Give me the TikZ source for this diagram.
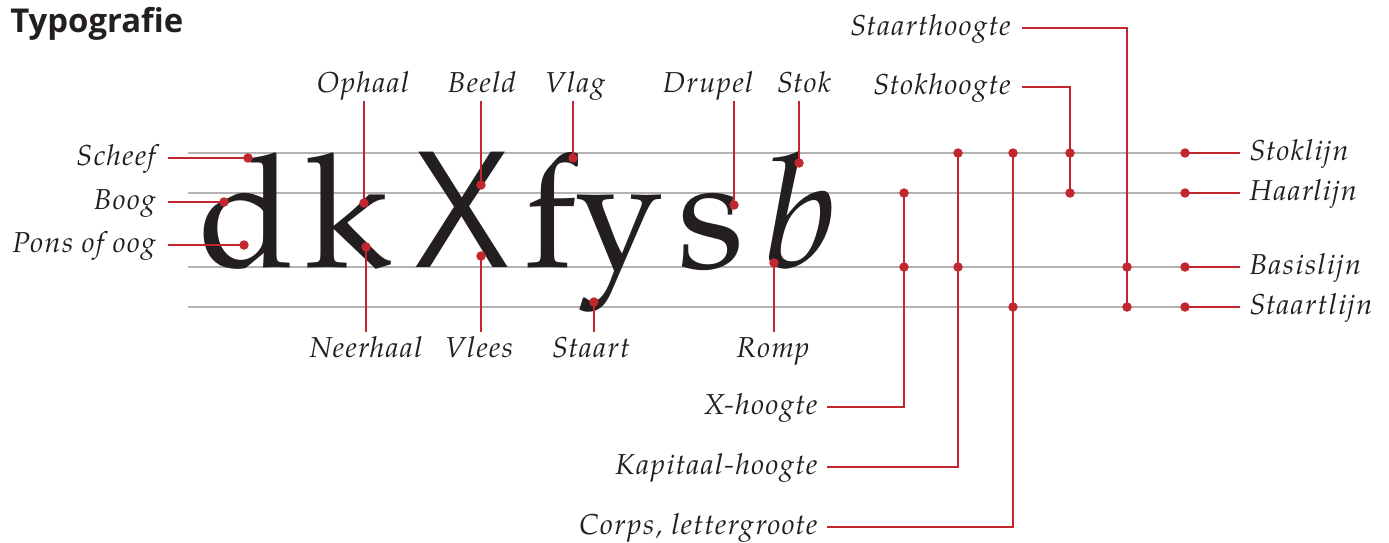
\documentclass[tikz,border=0pt]{standalone}
\usepackage{fontspec}
\setmainfont{texgyrepagella}[Extension=.otf, UprightFont=*-regular, ItalicFont=*-italic, BoldFont=*-bold, BoldItalicFont=*-bolditalic]
\newfontfamily\labelfont{texgyrepagella}[Extension=.otf, UprightFont=*-italic, LetterSpace=5]
\newfontfamily\kopfont{Open Sans}
\usetikzlibrary{positioning, calc}

\definecolor{inkt}{HTML}{231F20}
\definecolor{rood}{HTML}{C1272D}
\definecolor{lijngrijs}{HTML}{B3B3B3}

\begin{document}
\begin{tikzpicture}[x=0.02cm, y=-0.02cm,
  naam/.style={font=\labelfont\fontsize{16.4}{19}\selectfont, text=inkt, inner sep=0pt, text height=11pt, text depth=3pt},
  links/.style={naam, anchor=east, outer sep=7pt},
  rechts/.style={naam, anchor=west, outer sep=5.5pt},
  boven/.style={naam, anchor=south, outer sep=2pt},
  onder/.style={naam, anchor=north, outer sep=3.5pt},
  letter/.style={font=\fontsize{90}{90}\selectfont, text=inkt, inner sep=0pt, anchor=base},
  hulplijn/.style={draw=lijngrijs, line width=0.6pt},
  lijn/.style={draw=rood, line width=0.9pt},
  punt/.style={fill=rood}]

\useasboundingbox (0,0) rectangle (1389,542);

\node[anchor=base west, inner sep=0pt, text=inkt, font=\kopfont\bfseries\fontsize{18.7}{21}\selectfont] (titel) at (10,32) {Typografie};

% hulplijnen
\coordinate (stoklijn-l) at (188,153);
\coordinate (haarlijn-l) at (188,193);
\coordinate (basislijn-l) at (188,267);
\coordinate (staartlijn-l) at (188,307);

\coordinate (stoklijn-p) at (1185,153);
\coordinate (haarlijn-p) at (1185,193);
\coordinate (basislijn-p) at (1185,267);
\coordinate (staartlijn-p) at (1185,307);

\draw[hulplijn] (stoklijn-l) -- (stoklijn-p);
\draw[hulplijn] (haarlijn-l) -- (haarlijn-p);
\draw[hulplijn] (basislijn-l) -- (basislijn-p);
\draw[hulplijn] (staartlijn-l) -- (staartlijn-p);

% letters
\node[letter] (d) at (247,267) {d};
\node[letter] (k) at (348,267) {k};
\node[letter, font=\kopfont\fontsize{92}{92}\selectfont] (X) at (462,267) {X};
\node[letter] (f) at (551,267) {f};
\node[letter] (y) at (619,267) {y};
\node[letter] (s) at (711,267) {s};
\node[letter, font=\itshape\fontsize{90}{90}\selectfont] (b) at (800,267) {b};

% punten in de letters
\coordinate (scheef-p) at (248,158);
\coordinate (boog-p) at (224,202);
\coordinate (pons-p) at (244,245);
\coordinate (ophaal-p) at (364,203);
\coordinate (neerhaal-p) at (366,247);
\coordinate (beeld-p) at (481,185);
\coordinate (vlees-p) at (481,256);
\coordinate (vlag-p) at (573,158);
\coordinate (staart-p) at (594,302);
\coordinate (drupel-p) at (734,205);
\coordinate (stok-p) at (799,163);
\coordinate (romp-p) at (774,263);

% maten
\coordinate (xh-1) at (904,193);
\coordinate (xh-2) at (904,267);
\coordinate (kh-1) at (958,153);
\coordinate (kh-2) at (958,267);
\coordinate (co-1) at (1013,153);
\coordinate (co-2) at (1013,307);
\coordinate (sk-1) at (1070,153);
\coordinate (sk-2) at (1070,193);
\coordinate (st-1) at (1127,267);
\coordinate (st-2) at (1127,307);

% namen links
\node[links] (scheef) at (168,158) {Scheef};
\node[links] (boog) at (168,202) {Boog};
\node[links] (pons) at (168,245) {Pons of oog};

\draw[lijn] (scheef.east) -- (scheef-p);
\draw[lijn] (boog.east) -- (boog-p);
\draw[lijn] (pons.east) -- (pons-p);

% namen boven
\node[boven] (ophaal) at (363,101) {Ophaal};
\node[boven] (beeld) at (482,101) {Beeld};
\node[boven] (vlag) at (575,101) {Vlag};
\node[boven] (drupel) at (708,101) {Drupel};
\node[boven] (stok) at (804,101) {Stok};

\draw[lijn] (ophaal-p) -- (ophaal-p |- ophaal.south);
\draw[lijn] (beeld-p) -- (beeld-p |- beeld.south);
\draw[lijn] (vlag-p) -- (vlag-p |- vlag.south);
\draw[lijn] (drupel-p) -- (drupel-p |- drupel.south);
\draw[lijn] (stok-p) -- (stok-p |- stok.south);

% namen onder
\node[onder] (neerhaal) at (366,332) {Neerhaal};
\node[onder] (vlees) at (479,332) {Vlees};
\node[onder] (staart) at (591,332) {Staart};
\node[onder] (romp) at (773,332) {Romp};

\draw[lijn] (neerhaal-p) -- (neerhaal-p |- neerhaal.north);
\draw[lijn] (vlees-p) -- (vlees-p |- vlees.north);
\draw[lijn] (staart-p) -- (staart-p |- staart.north);
\draw[lijn] (romp-p) -- (romp-p |- romp.north);

% hoogtes
\node[links, outer sep=5.5pt] (xhoogte) at (827,407) {X-hoogte};
\node[links, outer sep=5.5pt] (kapitaal) at (827,467) {Kapitaal-hoogte};
\node[links, outer sep=5.5pt] (corps) at (827,527) {Corps, lettergroote};
\node[links, outer sep=6.5pt] (stokhoogte) at (1022,87) {Stokhoogte};
\node[links, outer sep=6.5pt] (staarthoogte) at (1022,28) {Staarthoogte};

\draw[lijn] (xhoogte.east) -| (xh-1);
\draw[lijn] (kapitaal.east) -| (kh-1);
\draw[lijn] (corps.east) -| (co-1);
\draw[lijn] (stokhoogte.east) -| (sk-2);
\draw[lijn] (staarthoogte.east) -| (st-2);

% namen rechts
\node[rechts] (stoklijn) at (1240,153) {Stoklijn};
\node[rechts] (haarlijn) at (1240,193) {Haarlijn};
\node[rechts] (basislijn) at (1240,267) {Basislijn};
\node[rechts] (staartlijn) at (1240,307) {Staartlijn};

\draw[lijn] (stoklijn-p) -- (stoklijn.west);
\draw[lijn] (haarlijn-p) -- (haarlijn.west);
\draw[lijn] (basislijn-p) -- (basislijn.west);
\draw[lijn] (staartlijn-p) -- (staartlijn.west);

\foreach \p in {scheef-p, boog-p, pons-p, ophaal-p, neerhaal-p, beeld-p, vlees-p,
  vlag-p, staart-p, drupel-p, stok-p, romp-p, xh-1, xh-2, kh-1, kh-2, co-1, co-2,
  sk-1, sk-2, st-1, st-2, stoklijn-p, haarlijn-p, basislijn-p, staartlijn-p}
  \fill[punt] (\p) circle (2.7pt);

\end{tikzpicture}
\end{document}
